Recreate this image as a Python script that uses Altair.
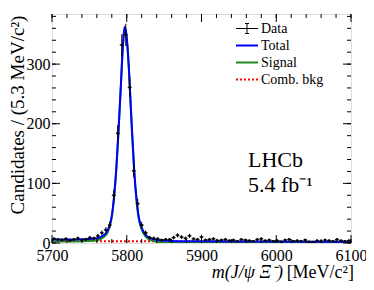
import altair as alt
import pandas as pd

FONT = "Liberation Serif"

# ---------------- data ----------------
x_lo, x_hi, n_bins = 5700.0, 6100.0, 75
counts = [7, 6, 5, 7, 4, 6, 8, 5, 6, 9, 8, 12, 17, 22, 30, 80, 184, 332, 349, 261,
          121, 66, 30, 17, 9, 8, 7, 5, 6, 6, 9, 13, 10, 8, 12, 7, 6, 10, 5, 6,
          7, 4, 5, 6, 4, 5, 3, 6, 5, 4, 3, 6, 7, 4, 5, 3, 4, 2, 5, 6,
          3, 4, 3, 5, 2, 1, 4, 3, 5, 4, 3, 6, 4, 3, 4]

curve_mass = [5700, 5730, 5750, 5760, 5765, 5770, 5774, 5777, 5780, 5783, 5786, 5789,
              5792, 5795, 5797, 5799, 5801, 5803, 5805, 5807, 5810, 5813, 5816, 5820,
              5825, 5830, 5840, 5860, 5900, 6000, 6100]
total_vals = [6.0, 6.0, 6.5, 8.0, 10.0, 14.0, 20.0, 30.0, 46.0, 78.0, 125.0, 190.0,
              262.0, 335.0, 362.0, 355.0, 330.0, 290.0, 240.0, 190.0, 122.0, 75.0, 44.0, 26.0,
              14.0, 9.0, 5.0, 3.5, 2.8, 2.4, 2.2]
signal_vals = [2.6, 2.7, 3.2, 4.7, 6.7, 10.7, 16.7, 26.7, 42.7, 74.7, 121.7, 186.7,
               258.8, 331.8, 358.8, 351.8, 326.8, 286.8, 236.8, 186.8, 118.8, 71.8, 40.8, 22.8,
               10.9, 5.9, 2.0, 0.6, 0.2, 0.1, 0.1]
bkg_mass = [5700, 5800, 5900, 6000, 6100]
bkg_vals = [3.4, 3.0, 2.6, 2.3, 2.0]

x_major = [5700, 5800, 5900, 6000, 6100]
x_minor = list(range(5700, 6101, 20))
y_major = [0, 100, 200, 300]
y_minor = list(range(0, 381, 20))

# ---------------- tables ----------------
bw = (x_hi - x_lo) / n_bins
rows = []
for i, c in enumerate(counts):
    lo = x_lo + i * bw
    e = c ** 0.5
    rows.append(dict(m=lo + bw / 2, lo=lo, hi=lo + bw, n=c, elo=c - e, ehi=c + e))
hist = pd.DataFrame(rows)
curves = pd.DataFrame({"m": curve_mass, "total": total_vals, "signal": signal_vals})
bkg = pd.DataFrame({"m": bkg_mass, "b": bkg_vals})

W, H = 299, 229
xs = alt.Scale(domain=[x_lo, x_hi], nice=False, zero=False)
ys = alt.Scale(domain=[0, 384], nice=False, zero=False)

xaxis = alt.Axis(values=x_major, format="d", tickSize=0, domain=False, grid=False,
                 labelFont=FONT, labelFontSize=16, labelColor="black", labelPadding=4,
                 labelFlush=False, labelOverlap=False, title=None)
yaxis = alt.Axis(values=y_major, format="d", tickSize=0, domain=False, grid=False,
                 labelFont=FONT, labelFontSize=16, labelColor="black", labelPadding=2,
                 labelOverlap=False, title=None)

# ---------------- fit curves ----------------
bkg_line = alt.Chart(bkg).mark_line(color="#ff0000", strokeWidth=2, strokeDash=[2, 2], clip=True).encode(
    x=alt.X("m:Q", scale=xs, axis=xaxis), y=alt.Y("b:Q", scale=ys, axis=yaxis))
sig_line = alt.Chart(curves).mark_line(color="#1f8a1f", strokeWidth=2, interpolate="monotone", clip=True).encode(
    x=alt.X("m:Q", scale=xs), y=alt.Y("signal:Q", scale=ys))
tot_line = alt.Chart(curves).mark_line(color="#0000ff", strokeWidth=2, interpolate="monotone", clip=True).encode(
    x=alt.X("m:Q", scale=xs), y=alt.Y("total:Q", scale=ys))

# ---------------- data points ----------------
hbar = alt.Chart(hist).mark_rule(color="black", strokeWidth=1, clip=True).encode(
    x=alt.X("lo:Q", scale=xs), x2="hi:Q", y=alt.Y("n:Q", scale=ys))
vbar = alt.Chart(hist).mark_rule(color="black", strokeWidth=1, clip=True).encode(
    x=alt.X("m:Q", scale=xs), y=alt.Y("elo:Q", scale=ys), y2="ehi:Q")
dots = alt.Chart(hist).mark_square(color="black", size=5, opacity=1, clip=True).encode(
    x=alt.X("m:Q", scale=xs), y=alt.Y("n:Q", scale=ys))

# ---------------- inner ticks ----------------
def xticks(vals, ln):
    d = pd.DataFrame({"t": vals})
    b = alt.Chart(d).mark_rule(color="black", strokeWidth=1).encode(
        x=alt.X("t:Q", scale=xs), y=alt.value(H), y2=alt.value(H - ln))
    t = alt.Chart(d).mark_rule(color="black", strokeWidth=1).encode(
        x=alt.X("t:Q", scale=xs), y=alt.value(0), y2=alt.value(ln))
    return b + t

def yticks(vals, ln):
    d = pd.DataFrame({"t": vals})
    l = alt.Chart(d).mark_rule(color="black", strokeWidth=1).encode(
        y=alt.Y("t:Q", scale=ys), x=alt.value(0), x2=alt.value(ln))
    r = alt.Chart(d).mark_rule(color="black", strokeWidth=1).encode(
        y=alt.Y("t:Q", scale=ys), x=alt.value(W), x2=alt.value(W - ln))
    return l + r

ticks = xticks(x_major, 8) + xticks(x_minor, 4) + yticks(y_major, 8) + yticks(y_minor, 4)

# ---------------- texts & legend ----------------
one = pd.DataFrame({"a": [0]})

def txt(s, x, y, size, align="left", baseline="middle", style="normal", angle=0):
    return alt.Chart(one).mark_text(text=s, font=FONT, fontSize=size, align=align, baseline=baseline,
                                    fontStyle=style, angle=angle, color="black").encode(
        x=alt.value(x), y=alt.value(y))

def seg(x1, x2, y1, y2, color="black", width=1, dash=None):
    kw = dict(color=color, strokeWidth=width)
    if dash:
        kw["strokeDash"] = dash
    return alt.Chart(one).mark_rule(**kw).encode(
        x=alt.value(x1), x2=alt.value(x2), y=alt.value(y1), y2=alt.value(y2))

ly = [14.5, 31.5, 48.5, 65.5]
lx1, lx2, ltx = 184, 206, 209
legend = (
    seg(lx1, lx2, ly[0], ly[0]) + seg(195, 195, ly[0] - 5, ly[0] + 5)
    + seg(193, 197, ly[0] - 5, ly[0] - 5) + seg(193, 197, ly[0] + 5, ly[0] + 5)
    + seg(lx1, lx2, ly[1], ly[1], "#0000ff", 2)
    + seg(lx1, lx2, ly[2], ly[2], "#1f8a1f", 2)
    + seg(lx1, lx2, ly[3], ly[3], "#ff0000", 2, [2, 2])
    + txt("Data", ltx, ly[0], 14) + txt("Total", ltx, ly[1], 14)
    + txt("Signal", ltx, ly[2], 14) + txt("Comb. bkg", ltx, ly[3], 14)
)

labels = (
    txt("LHCb", 196, 153, 22, baseline="alphabetic")
    + txt("5.4 fb\u207b\u00b9", 196, 178, 22, baseline="alphabetic")
    + txt("Candidates / (5.3 MeV/c\u00b2)", -34, 101, 19, align="center", angle=270)
    + txt("[MeV/c\u00b2]", W + 3, 264, 18, align="right", baseline="alphabetic")
    + txt("m(J/\u03c8 \u039e\u207b)", W - 68, 264, 18, align="right", baseline="alphabetic", style="italic")
)

chart = alt.layer(bkg_line, sig_line, tot_line, hbar, vbar, dots, ticks, legend, labels).properties(
    width=W, height=H,
    autosize=alt.AutoSizeParams(type="none"),
    padding={"left": 44, "top": 6, "right": 15, "bottom": 39},
).configure_view(stroke="black", strokeWidth=1).configure(background="white")

chart.save("out.html", embed_options={"renderer": "svg", "actions": False})
